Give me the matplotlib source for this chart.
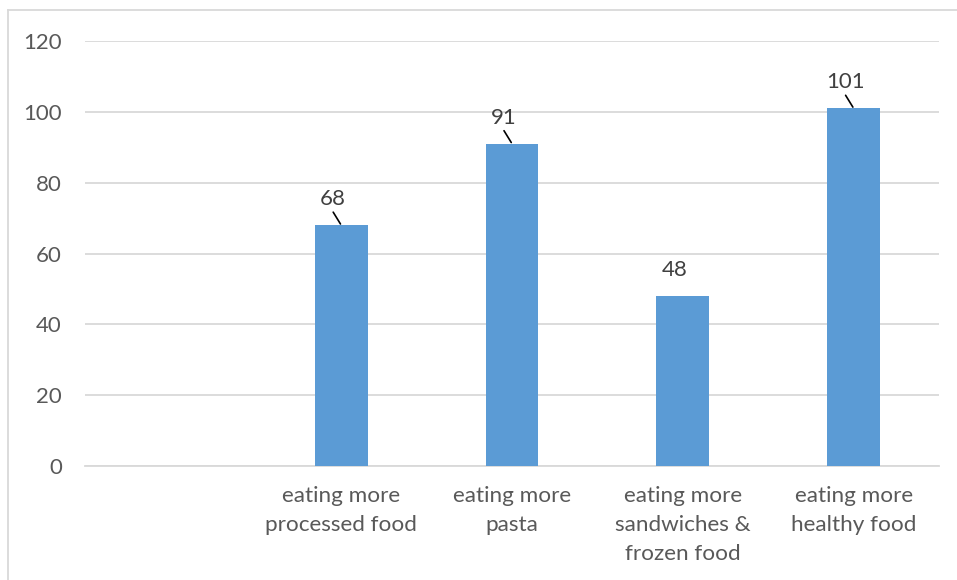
import numpy as np
import matplotlib
matplotlib.use('Agg')
import matplotlib.pyplot as plt
from matplotlib.lines import Line2D

# data
categories = ['', 'eating more\nprocessed food', 'eating more\npasta',
              'eating more\nsandwiches &\nfrozen food', 'eating more\nhealthy food']
values = [np.nan, 68, 91, 48, 101]
leader = [False, True, True, False, True]   # label has a leader line
yticks = [0, 20, 40, 60, 80, 100, 120]

plt.rcParams['font.family'] = ['Lato', 'DejaVu Sans']

W, H, DPI = 957, 580, 100
fig = plt.figure(figsize=(W / DPI, H / DPI), dpi=DPI)
px = 72 / DPI  # pixels -> points

ax = fig.add_axes([85 / W, 1 - 466 / H, (939 - 85) / W, (466 - 41) / H])
x = np.arange(len(categories))
ax.bar(x, values, width=0.31, color='#5B9BD5', zorder=3)

ax.set_xlim(-0.5, len(categories) - 0.5)
ax.set_ylim(0, 120)
ax.set_yticks(yticks)
ax.set_xticks(x)
ax.set_xticklabels(categories, fontsize=16.2, color='#595959', linespacing=1.55)
ax.tick_params(axis='y', labelsize=16, labelcolor='#595959', length=0, pad=23 * px)
ax.tick_params(axis='x', length=0, pad=20 * px)
ax.grid(axis='y', color='#D9D9D9', lw=1.3, zorder=0)
for s in ['top', 'right', 'left']:
    ax.spines[s].set_visible(False)
ax.spines['bottom'].set_color('#D9D9D9')
ax.spines['bottom'].set_linewidth(1.3)

# value labels
for xi, v, ld in zip(x, values, leader):
    if np.isnan(v):
        continue
    ax.annotate(str(v), xy=(xi, v), xytext=(-8 * px, 26 * px), textcoords='offset points',
                ha='center', va='center', fontsize=16, color='#404040')
    if ld:
        ax.annotate('', xy=(xi, v), xytext=(-8 * px, 13 * px), textcoords='offset points',
                    arrowprops=dict(arrowstyle='-', color='black', lw=1.2, shrinkA=0, shrinkB=1))

# outer chart border (partly cropped)
fig.add_artist(Line2D([8 / W, 1], [1 - 10 / H, 1 - 10 / H], color='#D9D9D9', lw=1.3))
fig.add_artist(Line2D([8 / W, 8 / W], [0, 1 - 10 / H], color='#D9D9D9', lw=1.3))

fig.savefig('out.png', dpi=DPI)
